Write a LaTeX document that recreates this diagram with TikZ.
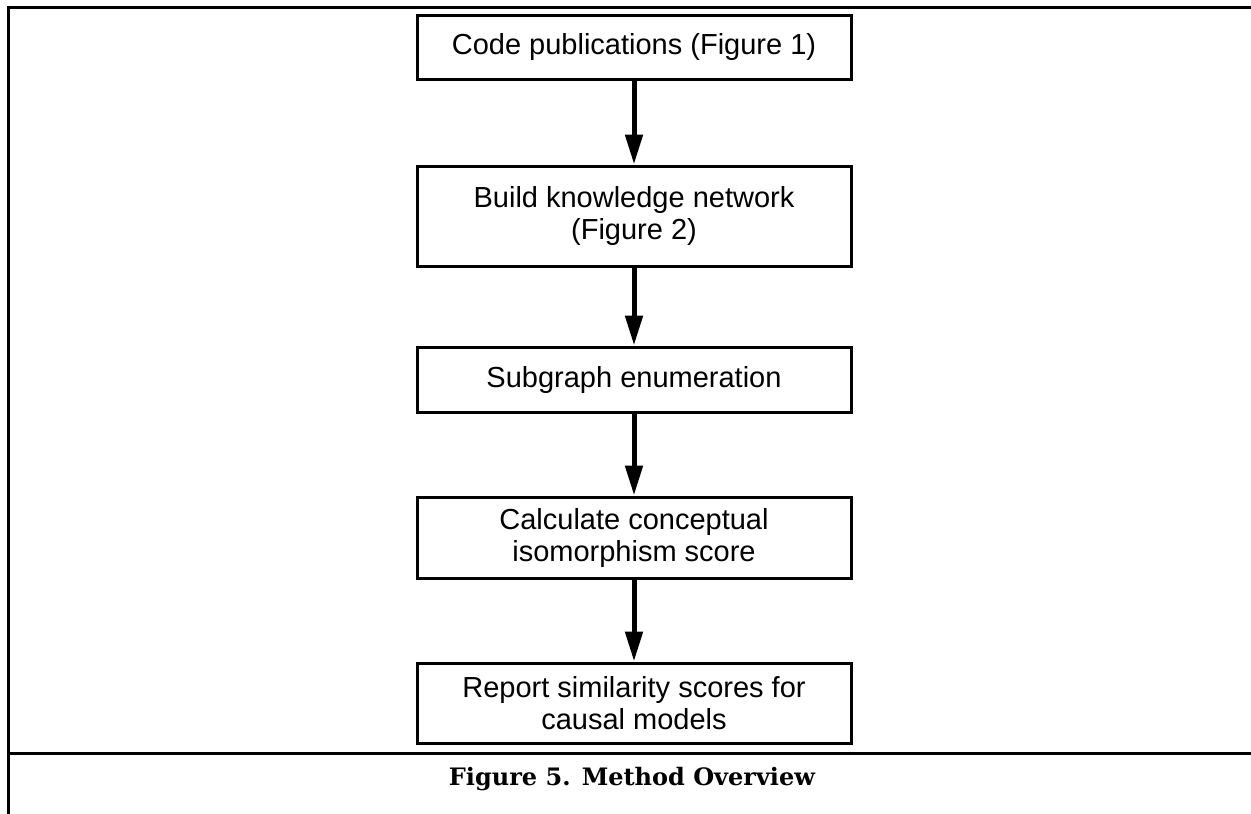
\documentclass[tikz,border=0pt]{standalone}
\usepackage{fontspec}
\setmainfont{Liberation Sans}
\newfontfamily\capfont{DejaVu Serif}
\usetikzlibrary{arrows.meta}
\begin{document}
\begin{tikzpicture}[x=1pt,y=-1pt,
  stepbox/.style={draw, line width=3pt, minimum width=434pt, align=center,
    font=\fontsize{29}{32}\selectfont, inner sep=0pt},
  flow/.style={line width=5pt, -{Triangle[length=30pt,width=17pt]}},
  rule/.style={line width=3pt},
  caption/.style={font=\capfont\bfseries\fontsize{24}{28}\selectfont, anchor=base}]
\useasboundingbox (0,0) rectangle (1251,814);
% frame lines
\draw[rule] (1251,7) -- (8,7) -- (8,814);
\draw[rule] (8,753) -- (1251,753);
% steps
\node[stepbox, minimum height=64pt] (code) at (634,47) {Code publications (Figure 1)};
\node[stepbox, minimum height=100pt] (build) at (634,216) {Build knowledge network\\(Figure 2)};
\node[stepbox, minimum height=65pt] (enum) at (634,379.5) {Subgraph enumeration};
\node[stepbox, minimum height=81pt] (score) at (634,537.5) {Calculate conceptual\\isomorphism score};
\node[stepbox, minimum height=80pt] (report) at (634,703) {Report similarity scores for\\causal models};
% connectors
\draw[flow] (code) -- (build);
\draw[flow] (build) -- (enum);
\draw[flow] (enum) -- (score);
\draw[flow] (score) -- (report);
% caption
\node[caption] (cap) at (632,785) {Figure 5. Method Overview};
\end{tikzpicture}
\end{document}
